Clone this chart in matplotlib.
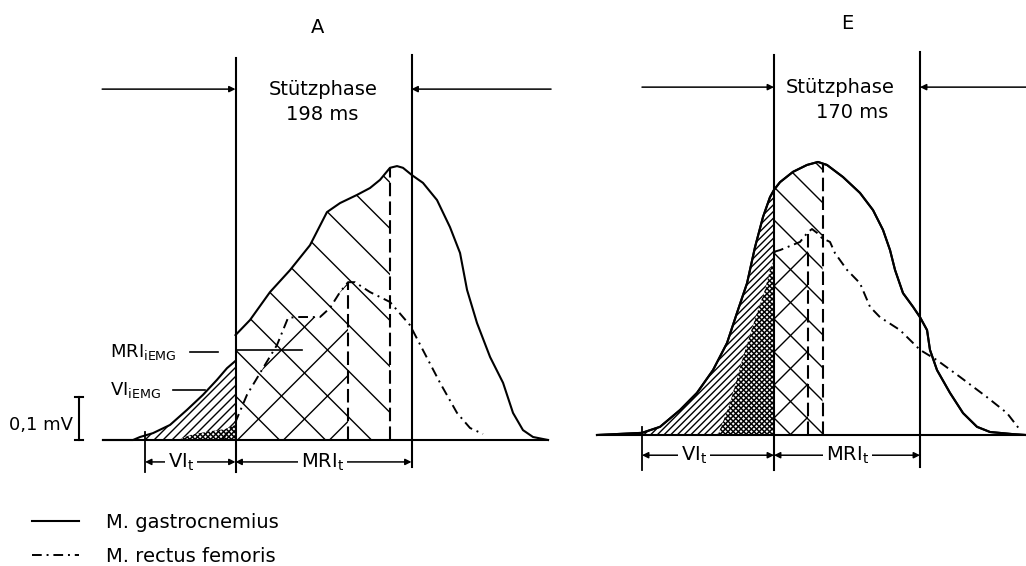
import numpy as np
import matplotlib.pyplot as plt
from matplotlib.patches import Polygon
from matplotlib.collections import LineCollection
from matplotlib.lines import Line2D

plt.rcParams['font.family'] = ['DejaVu Sans']

W, H, DPI = 10.26, 5.66, 100
FS = 14

# ---------------- data (t in ms from touchdown, EMG in mV) ----------------
# Panel A
a_gas_pre_t = [-149.1, -115.3, -107.4, -92.8, -73.7, -54.6, -36.6, -20.8, -9.6, -0.6]
a_gas_pre_v = [0, 0, 0.007, 0.016, 0.035, 0.070, 0.105, 0.140, 0.167, 0.183]
a_gas_t = [0, 16.3, 38.8, 61.3, 83.8, 102.9, 117.6, 136.7, 151.3, 162.6, 173.8, 181.7,
           188.4, 198.5, 210.9, 226.7, 241.3, 252.6, 260.5, 271.7, 286.4, 301.0, 312.2,
           323.4, 334.7, 351.6]
a_gas_v = [0.244, 0.279, 0.344, 0.395, 0.453, 0.530, 0.551, 0.570, 0.586, 0.605, 0.633, 0.637,
           0.633, 0.616, 0.598, 0.558, 0.495, 0.435, 0.349, 0.272, 0.193, 0.133, 0.063,
           0.023, 0.007, 0]
a_rf_t = [-15.2, -8.4, 0, 12.9, 30.9, 46.7, 59.1, 69.2, 95.1, 106.3, 117.6, 126.6, 134.4,
          151.3, 173.8, 196.3, 210.9, 230.1, 249.2, 263.8, 278.4]
a_rf_v = [0, 0.019, 0.042, 0.105, 0.167, 0.221, 0.284, 0.286, 0.286, 0.307, 0.344, 0.367, 0.367,
          0.344, 0.321, 0.267, 0.209, 0.133, 0.063, 0.028, 0.014]
a_rf_pre_t = [-65, -50, -30, -12, 0]
a_rf_pre_v = [0, 0.012, 0.020, 0.025, 0.035]
a_stance = [0, 198]
a_peaks = [126.6, 173.8]          # dashed: rectus peak, gastrocnemius peak
a_vi_start = -107.4               # begin of VI hatching
a_vit = -101.7                    # VI_t marker
a_base = [-149.1, 351.6]

# Panel E
e_gas_t = [-206.1, -153.7, -132.7, -109.5, -89.7, -71.0, -54.7, -43.1, -31.4, -22.1, -12.8,
           -4.7, 0, 7.0, 22.1, 38.4, 51.2, 61.7, 80.3, 100.1, 115.3, 126.9, 135.1, 140.9,
           150.2, 161.9, 170.0, 178.2, 181.6, 189.8, 204.9, 220.1, 236.4, 251.5, 278.3, 293.4]
e_gas_v = [0, 0.005, 0.019, 0.058, 0.098, 0.151, 0.214, 0.284, 0.353, 0.437, 0.507,
           0.553, 0.570, 0.588, 0.612, 0.628, 0.635, 0.628, 0.600, 0.563, 0.523, 0.477, 0.430,
           0.384, 0.330, 0.298, 0.274, 0.244, 0.198, 0.151, 0.098, 0.051, 0.019, 0.007, 0.002, 0]
e_rf_t = [0, 7.0, 30.3, 39.6, 44.2, 50.1, 55.9, 65.2, 71.0, 85.0, 100.1, 111.8, 123.4, 146.7,
          170.0, 189.8, 216.6, 248.0, 271.3, 286.4]
e_rf_v = [0.426, 0.430, 0.449, 0.472, 0.479, 0.470, 0.458, 0.449, 0.423, 0.384, 0.353, 0.298,
          0.274, 0.244, 0.198, 0.174, 0.135, 0.088, 0.051, 0.012]
e_rf_pre_t = [-65.2, -51.2, -36.1, -19.8, -10.5, -4.7, 0]
e_rf_pre_v = [0, 0.074, 0.181, 0.284, 0.337, 0.384, 0.407]
e_stance = [0, 170]
e_peaks = [39.6, 56.5]
e_vi_start = -153.7
e_vit = -153.7
e_base = [-206.1, 293.4]

scale_mv = 0.1

# ---------------- layout (page pixels) ----------------
PX_MV = 430.0                     # pixels per mV
A_X0, A_SX, A_BASE = 235.5, 176 / 198, 440
E_X0, E_SX, E_BASE = 774.0, 146 / 170, 435

DASHDOT = (0, (5, 2.5, 1, 2.5))
DASHED = (0, (6.5, 2.5))

fig = plt.figure(figsize=(W, H), dpi=DPI, facecolor='white')


def panel(x0, sx, base):
    ax = fig.add_axes([0, 0, 1, 1])
    ax.set_xlim(-x0 / sx, (W * DPI - x0) / sx)
    ax.set_ylim((base - H * DPI) / PX_MV, base / PX_MV)
    ax.axis('off')
    ax.patch.set_visible(False)
    return ax


def region(t, v, t0, t1):
    t = np.asarray(t, float)
    v = np.asarray(v, float)
    m = (t > t0) & (t < t1)
    tt = np.concatenate([[t0, t0], t[m], [t1, t1]])
    vv = np.concatenate([[0, np.interp(t0, t, v)], v[m], [np.interp(t1, t, v), 0]])
    return np.column_stack([tt, vv])


def hatch(ax, verts, slope, step, through, lw=1.0, z=1.0):
    poly = Polygon(verts, closed=True, fill=False, edgecolor='none', transform=ax.transData)
    ax.add_patch(poly)
    pix = ax.transData.transform(verts)
    px, py = pix[:, 0], H * DPI - pix[:, 1]
    if slope > 0:
        c, c0 = px + py, through[0] + through[1]
    else:
        c, c0 = px - py, through[0] - through[1]
    ks = np.arange(np.floor((c.min() - c0) / step) - 1, np.ceil((c.max() - c0) / step) + 2)
    x1, x2 = px.min() - 5, px.max() + 5
    segs = []
    for k in ks:
        ck = c0 + k * step
        if slope > 0:
            segs.append([(x1, ck - x1), (x2, ck - x2)])
        else:
            segs.append([(x1, x1 - ck), (x2, x2 - ck)])
    segs = np.array(segs, float).reshape(-1, 2)
    segs[:, 1] = H * DPI - segs[:, 1]
    data = ax.transData.inverted().transform(segs).reshape(-1, 2, 2)
    lc = LineCollection(data, colors='black', linewidths=lw, zorder=z)
    ax.add_collection(lc, autolim=False)
    lc.set_clip_path(poly)


def mask(ax, verts, z):
    ax.add_patch(Polygon(verts, closed=True, facecolor='white', edgecolor='none', zorder=z))


def span_arrow(ax, t0, t1, v, label, tl):
    ax.annotate('', xy=(t1, v), xytext=(t0, v),
                arrowprops=dict(arrowstyle='<|-|>', color='black', lw=1.1,
                                mutation_scale=9, shrinkA=0, shrinkB=0), zorder=4)
    ax.text(tl, v, label, ha='center', va='center', fontsize=FS, zorder=5,
            bbox=dict(facecolor='white', edgecolor='none', pad=2))


def draw_panel(ax, name, stance, ms, gas_pre, gas, rf, rf_pre, peaks, vi_start, vit,
               base, arrow_v, top_v, tops, bots, txt, hs):
    # hatching
    hatch(ax, region(gas[0], gas[1], 0, peaks[1]), -1, hs[0], hs[1], lw=1.0)
    hatch(ax, region(rf[0], rf[1], 0, peaks[0]), +1, hs[0], hs[1], lw=1.0)
    hatch(ax, region(gas_pre[0], gas_pre[1], vi_start, 0), +1, hs[2], (0, 0), lw=1.0)
    dense = region(rf_pre[0], rf_pre[1], rf_pre[0][0], 0)
    mask(ax, dense, 1.5)
    hatch(ax, dense, +1, 5.2, (0, 0), lw=1.1, z=2)
    hatch(ax, dense, -1, 5.2, (0, 0), lw=1.1, z=2)

    # curves
    ax.plot(base, [0, 0], color='black', lw=1.5, zorder=3)
    ax.plot(gas_pre[0], gas_pre[1], color='black', lw=1.5, zorder=3, solid_joinstyle='round')
    ax.plot(gas[0], gas[1], color='black', lw=1.5, zorder=3, solid_joinstyle='round')
    ax.plot(rf[0], rf[1], color='black', lw=1.4, ls=DASHDOT, zorder=3)
    ax.plot([peaks[0]] * 2, [0, np.interp(peaks[0], rf[0], rf[1])], color='black', lw=1.5,
            ls=DASHED, zorder=3)
    ax.plot([peaks[1]] * 2, [0, np.interp(peaks[1], gas[0], gas[1])], color='black', lw=1.5,
            ls=DASHED, zorder=3)

    # stance phase boundaries and arrows
    for s, tp, bt in zip(stance, tops, bots):
        ax.plot([s, s], [bt, tp], color='black', lw=1.5, zorder=3)
    for t0, t1 in ((arrow_v[1], stance[0]), (arrow_v[2], stance[1])):
        ax.annotate('', xy=(t1, arrow_v[0]), xytext=(t0, arrow_v[0]),
                    arrowprops=dict(arrowstyle='-|>', color='black', lw=1.1,
                                    mutation_scale=9, shrinkA=0, shrinkB=0))
    ax.text(txt[0], top_v, name, ha='center', va='center', fontsize=FS)
    ax.text(txt[1], arrow_v[0], 'Stützphase', ha='center', va='center', fontsize=FS)
    ax.text(txt[2], arrow_v[0] - 0.058, f'{ms} ms', ha='center', va='center', fontsize=FS)

    # bottom spans
    ax.plot([vit, vit], [0.019, bots[0]], color='black', lw=1.3, zorder=3)
    span_arrow(ax, vit, stance[0], txt[3], 'VI$_\\mathregular{t}$', txt[4])
    span_arrow(ax, stance[0], stance[1], txt[3], 'MRI$_\\mathregular{t}$', txt[5])


axA = panel(A_X0, A_SX, A_BASE)
axE = panel(E_X0, E_SX, E_BASE)

draw_panel(axA, 'A', a_stance, 198, (a_gas_pre_t, a_gas_pre_v), (a_gas_t, a_gas_v),
           (a_rf_t, a_rf_v), (a_rf_pre_t, a_rf_pre_v), a_peaks, a_vi_start, a_vit, a_base,
           (0.816, -150, 355), 0.96, (0.888, 0.895), (-0.074, -0.063),
           (92.8, 99.0, 97.0, -0.051, -61.0, 97.6), (46, (235.5, 350), 9))

draw_panel(axE, 'E', e_stance, 170, (e_gas_t, e_gas_v), (e_gas_t, e_gas_v),
           (e_rf_t, e_rf_v), (e_rf_pre_t, e_rf_pre_v), e_peaks, e_vi_start, e_vit, e_base,
           (0.809, -153.7, 293.4), 0.958, (0.884, 0.891), (-0.081, -0.074),
           (85.0, 76.9, 91.0, -0.047, -93.0, 86.0), (33, (774, 220), 6.7))

# iEMG labels (panel A)
axA.text(-141, 0.205, 'MRI$_\\mathregular{iEMG}$', ha='left', va='center', fontsize=FS - 1)
axA.plot([-51.2, -19.7], [0.205, 0.205], color='black', lw=1.2, zorder=4)
axA.plot([0, 75.0], [0.209, 0.209], color='black', lw=1.2, zorder=4)
axA.text(-141, 0.116, 'VI$_\\mathregular{iEMG}$', ha='left', va='center', fontsize=FS - 1)
axA.plot([-70.3, -34.3], [0.116, 0.116], color='black', lw=1.2, zorder=4)

# 0,1 mV scale bar
axA.plot([-176.1, -176.1], [0, scale_mv], color='black', lw=1.5)
axA.plot([-180.6, -171.6], [0, 0], color='black', lw=1.5)
axA.plot([-180.6, -171.6], [scale_mv, scale_mv], color='black', lw=1.5)
axA.text(-183, 0.035, '0,1 mV', ha='right', va='center', fontsize=FS - 1)

# legend
handles = [Line2D([], [], color='black', lw=1.5),
           Line2D([], [], color='black', lw=1.4, ls=DASHDOT)]
fig.legend(handles, ['M. gastrocnemius', 'M. rectus femoris'], loc='upper left',
           bbox_to_anchor=(32 / 1026, 1 - 513 / 566), frameon=False, fontsize=FS,
           handlelength=2.4, handletextpad=1.4, labelspacing=0.75, borderpad=0,
           borderaxespad=0)

fig.savefig('out.png', dpi=DPI, facecolor='white')
